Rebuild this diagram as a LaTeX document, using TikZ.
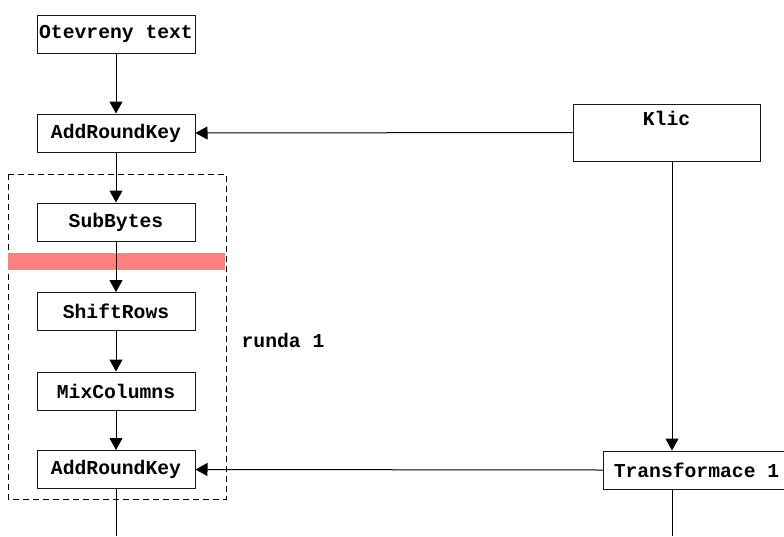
\documentclass[tikz,border=0pt]{standalone}
\usepackage{fontspec}
\setmonofont{Liberation Mono}
\usetikzlibrary{arrows.meta, calc}
\definecolor{bandred}{RGB}{255,128,128}

\begin{document}
\begin{tikzpicture}[x=1pt, y=-1pt,
  every node/.style={font=\ttfamily\bfseries\fontsize{19.7}{23}\selectfont},
  stage/.style={draw=black!90, line width=1pt, rectangle, inner sep=0pt, minimum width=158pt, minimum height=38pt, fill=white},
  flow/.style={-{Triangle[length=12pt, width=13pt]}, draw=black, line width=1pt},
  plain/.style={draw=black, line width=1pt}]
\useasboundingbox (0,0) rectangle (784,536);

% Round frame and marker band
\draw[black, line width=0.9pt, dash pattern=on 6pt off 4pt] (8,174) rectangle (226,499);
\fill[bandred] (8,253) rectangle (225,270);

% Plaintext input
\node[stage] (otext) at (116,34) {Otevreny text};

% Initial key addition
\node[stage] (ark0) at (116,133) {AddRoundKey};

% Key
\node[stage, minimum width=187pt, minimum height=0pt, text height=21pt, text depth=36pt] (klic) at (666.5,132.5) {Klic};

% Round 1
\node[stage] (sub) at (116,222) {SubBytes};
\node[stage] (shift) at (116,311.5) {ShiftRows};
\node[stage] (mix) at (116,391) {MixColumns};
\node[stage] (ark1) at (116,469.5) {AddRoundKey};
\node (runda) at (283,340) {runda 1};

% Key schedule
\node[stage, minimum width=186pt, anchor=west] (trans) at (603,470) {Transformace 1};
\coordinate (kx) at (672,0);
\coordinate (outL) at (116,536);
\coordinate (outR) at (672,536);

% Arrows
\draw[flow] (otext) -- (ark0);
\draw[flow] (ark0) -- (sub);
\draw[flow] (sub) -- (shift);
\draw[flow] (shift) -- (mix);
\draw[flow] (mix) -- (ark1);
\draw[flow] (klic.west) -- (ark0.east);
\draw[flow] (kx |- klic.south) -- (kx |- trans.north);
\draw[flow] (trans.west) -- (ark1.east);

% Continuation
\draw[plain] (ark1.south) -- (outL);
\draw[plain] (kx |- trans.south) -- (outR);
\end{tikzpicture}
\end{document}
